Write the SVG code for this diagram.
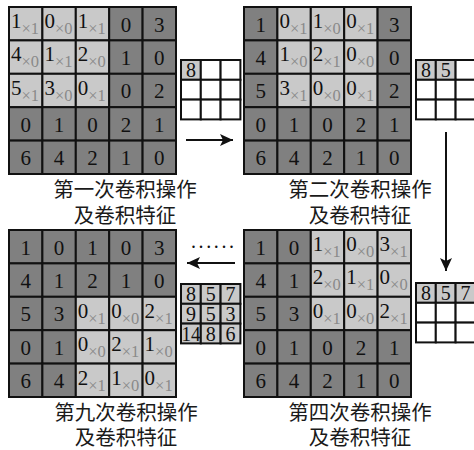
<svg xmlns="http://www.w3.org/2000/svg" width="474" height="450" viewBox="0 0 474 450">
<style>
.d{fill:#808080;stroke:#111;stroke-width:2}
.l{fill:#c9c9c9;stroke:#111;stroke-width:2}
.w{fill:#fff;stroke:#111;stroke-width:2}
.n{font-family:"Liberation Serif",serif;font-size:21px;fill:#111;text-anchor:middle}
.m{font-family:"Liberation Serif",serif;font-size:21px;fill:#111}
.s{font-size:16.5px;fill:#8a8a8a}
.f{font-family:"Liberation Serif",serif;font-size:20px;fill:#111;text-anchor:middle}
.lab{font-family:"Noto Sans CJK SC","Noto Sans",sans-serif;font-size:20.5px;fill:#1a1a1a;text-anchor:middle}
.ar{stroke:#111;stroke-width:2;fill:none}
</style>
<defs>
<marker id="ah" markerUnits="userSpaceOnUse" markerWidth="14" markerHeight="12" refX="13" refY="6" orient="auto">
<path d="M0,0 L13,6 L0,12 L3,6 z" fill="#111"/>
</marker>
</defs>

<!-- Grid 1 -->
<g id="grid1" transform="translate(9,7)">
<rect class="l" x="0" y="0" width="33.4" height="33.4"/><rect class="l" x="33.4" y="0" width="33.4" height="33.4"/><rect class="l" x="66.8" y="0" width="33.4" height="33.4"/><rect class="d" x="100.2" y="0" width="33.4" height="33.4"/><rect class="d" x="133.6" y="0" width="33.4" height="33.4"/>
<rect class="l" x="0" y="33.4" width="33.4" height="33.4"/><rect class="l" x="33.4" y="33.4" width="33.4" height="33.4"/><rect class="l" x="66.8" y="33.4" width="33.4" height="33.4"/><rect class="d" x="100.2" y="33.4" width="33.4" height="33.4"/><rect class="d" x="133.6" y="33.4" width="33.4" height="33.4"/>
<rect class="l" x="0" y="66.8" width="33.4" height="33.4"/><rect class="l" x="33.4" y="66.8" width="33.4" height="33.4"/><rect class="l" x="66.8" y="66.8" width="33.4" height="33.4"/><rect class="d" x="100.2" y="66.8" width="33.4" height="33.4"/><rect class="d" x="133.6" y="66.8" width="33.4" height="33.4"/>
<rect class="d" x="0" y="100.2" width="33.4" height="33.4"/><rect class="d" x="33.4" y="100.2" width="33.4" height="33.4"/><rect class="d" x="66.8" y="100.2" width="33.4" height="33.4"/><rect class="d" x="100.2" y="100.2" width="33.4" height="33.4"/><rect class="d" x="133.6" y="100.2" width="33.4" height="33.4"/>
<rect class="d" x="0" y="133.6" width="33.4" height="33.4"/><rect class="d" x="33.4" y="133.6" width="33.4" height="33.4"/><rect class="d" x="66.8" y="133.6" width="33.4" height="33.4"/><rect class="d" x="100.2" y="133.6" width="33.4" height="33.4"/><rect class="d" x="133.6" y="133.6" width="33.4" height="33.4"/>
<text class="m" x="2" y="21">1<tspan class="s" dy="6">×1</tspan></text><text class="m" x="35.4" y="21">0<tspan class="s" dy="6">×0</tspan></text><text class="m" x="68.8" y="21">1<tspan class="s" dy="6">×1</tspan></text><text class="n" x="116.9" y="24.5">0</text><text class="n" x="150.3" y="24.5">3</text>
<text class="m" x="2" y="54.4">4<tspan class="s" dy="6">×0</tspan></text><text class="m" x="35.4" y="54.4">1<tspan class="s" dy="6">×1</tspan></text><text class="m" x="68.8" y="54.4">2<tspan class="s" dy="6">×0</tspan></text><text class="n" x="116.9" y="57.9">1</text><text class="n" x="150.3" y="57.9">0</text>
<text class="m" x="2" y="87.8">5<tspan class="s" dy="6">×1</tspan></text><text class="m" x="35.4" y="87.8">3<tspan class="s" dy="6">×0</tspan></text><text class="m" x="68.8" y="87.8">0<tspan class="s" dy="6">×1</tspan></text><text class="n" x="116.9" y="91.3">0</text><text class="n" x="150.3" y="91.3">2</text>
<text class="n" x="16.7" y="124.7">0</text><text class="n" x="50.1" y="124.7">1</text><text class="n" x="83.5" y="124.7">0</text><text class="n" x="116.9" y="124.7">2</text><text class="n" x="150.3" y="124.7">1</text>
<text class="n" x="16.7" y="158.1">6</text><text class="n" x="50.1" y="158.1">4</text><text class="n" x="83.5" y="158.1">2</text><text class="n" x="116.9" y="158.1">1</text><text class="n" x="150.3" y="158.1">0</text>
</g>

<!-- Grid 2 -->
<g id="grid2" transform="translate(244,7)">
<rect class="d" x="0" y="0" width="33.4" height="33.4"/><rect class="l" x="33.4" y="0" width="33.4" height="33.4"/><rect class="l" x="66.8" y="0" width="33.4" height="33.4"/><rect class="l" x="100.2" y="0" width="33.4" height="33.4"/><rect class="d" x="133.6" y="0" width="33.4" height="33.4"/>
<rect class="d" x="0" y="33.4" width="33.4" height="33.4"/><rect class="l" x="33.4" y="33.4" width="33.4" height="33.4"/><rect class="l" x="66.8" y="33.4" width="33.4" height="33.4"/><rect class="l" x="100.2" y="33.4" width="33.4" height="33.4"/><rect class="d" x="133.6" y="33.4" width="33.4" height="33.4"/>
<rect class="d" x="0" y="66.8" width="33.4" height="33.4"/><rect class="l" x="33.4" y="66.8" width="33.4" height="33.4"/><rect class="l" x="66.8" y="66.8" width="33.4" height="33.4"/><rect class="l" x="100.2" y="66.8" width="33.4" height="33.4"/><rect class="d" x="133.6" y="66.8" width="33.4" height="33.4"/>
<rect class="d" x="0" y="100.2" width="33.4" height="33.4"/><rect class="d" x="33.4" y="100.2" width="33.4" height="33.4"/><rect class="d" x="66.8" y="100.2" width="33.4" height="33.4"/><rect class="d" x="100.2" y="100.2" width="33.4" height="33.4"/><rect class="d" x="133.6" y="100.2" width="33.4" height="33.4"/>
<rect class="d" x="0" y="133.6" width="33.4" height="33.4"/><rect class="d" x="33.4" y="133.6" width="33.4" height="33.4"/><rect class="d" x="66.8" y="133.6" width="33.4" height="33.4"/><rect class="d" x="100.2" y="133.6" width="33.4" height="33.4"/><rect class="d" x="133.6" y="133.6" width="33.4" height="33.4"/>
<text class="n" x="16.7" y="24.5">1</text><text class="m" x="35.4" y="21">0<tspan class="s" dy="6">×1</tspan></text><text class="m" x="68.8" y="21">1<tspan class="s" dy="6">×0</tspan></text><text class="m" x="102.2" y="21">0<tspan class="s" dy="6">×1</tspan></text><text class="n" x="150.3" y="24.5">3</text>
<text class="n" x="16.7" y="57.9">4</text><text class="m" x="35.4" y="54.4">1<tspan class="s" dy="6">×0</tspan></text><text class="m" x="68.8" y="54.4">2<tspan class="s" dy="6">×1</tspan></text><text class="m" x="102.2" y="54.4">0<tspan class="s" dy="6">×0</tspan></text><text class="n" x="150.3" y="57.9">0</text>
<text class="n" x="16.7" y="91.3">5</text><text class="m" x="35.4" y="87.8">3<tspan class="s" dy="6">×1</tspan></text><text class="m" x="68.8" y="87.8">0<tspan class="s" dy="6">×0</tspan></text><text class="m" x="102.2" y="87.8">0<tspan class="s" dy="6">×1</tspan></text><text class="n" x="150.3" y="91.3">2</text>
<text class="n" x="16.7" y="124.7">0</text><text class="n" x="50.1" y="124.7">1</text><text class="n" x="83.5" y="124.7">0</text><text class="n" x="116.9" y="124.7">2</text><text class="n" x="150.3" y="124.7">1</text>
<text class="n" x="16.7" y="158.1">6</text><text class="n" x="50.1" y="158.1">4</text><text class="n" x="83.5" y="158.1">2</text><text class="n" x="116.9" y="158.1">1</text><text class="n" x="150.3" y="158.1">0</text>
</g>

<!-- Grid 3 (ninth) -->
<g id="grid9" transform="translate(9,230)">
<rect class="d" x="0" y="0" width="33.4" height="33.4"/><rect class="d" x="33.4" y="0" width="33.4" height="33.4"/><rect class="d" x="66.8" y="0" width="33.4" height="33.4"/><rect class="d" x="100.2" y="0" width="33.4" height="33.4"/><rect class="d" x="133.6" y="0" width="33.4" height="33.4"/>
<rect class="d" x="0" y="33.4" width="33.4" height="33.4"/><rect class="d" x="33.4" y="33.4" width="33.4" height="33.4"/><rect class="d" x="66.8" y="33.4" width="33.4" height="33.4"/><rect class="d" x="100.2" y="33.4" width="33.4" height="33.4"/><rect class="d" x="133.6" y="33.4" width="33.4" height="33.4"/>
<rect class="d" x="0" y="66.8" width="33.4" height="33.4"/><rect class="d" x="33.4" y="66.8" width="33.4" height="33.4"/><rect class="l" x="66.8" y="66.8" width="33.4" height="33.4"/><rect class="l" x="100.2" y="66.8" width="33.4" height="33.4"/><rect class="l" x="133.6" y="66.8" width="33.4" height="33.4"/>
<rect class="d" x="0" y="100.2" width="33.4" height="33.4"/><rect class="d" x="33.4" y="100.2" width="33.4" height="33.4"/><rect class="l" x="66.8" y="100.2" width="33.4" height="33.4"/><rect class="l" x="100.2" y="100.2" width="33.4" height="33.4"/><rect class="l" x="133.6" y="100.2" width="33.4" height="33.4"/>
<rect class="d" x="0" y="133.6" width="33.4" height="33.4"/><rect class="d" x="33.4" y="133.6" width="33.4" height="33.4"/><rect class="l" x="66.8" y="133.6" width="33.4" height="33.4"/><rect class="l" x="100.2" y="133.6" width="33.4" height="33.4"/><rect class="l" x="133.6" y="133.6" width="33.4" height="33.4"/>
<text class="n" x="16.7" y="24.5">1</text><text class="n" x="50.1" y="24.5">0</text><text class="n" x="83.5" y="24.5">1</text><text class="n" x="116.9" y="24.5">0</text><text class="n" x="150.3" y="24.5">3</text>
<text class="n" x="16.7" y="57.9">4</text><text class="n" x="50.1" y="57.9">1</text><text class="n" x="83.5" y="57.9">2</text><text class="n" x="116.9" y="57.9">1</text><text class="n" x="150.3" y="57.9">0</text>
<text class="n" x="16.7" y="91.3">5</text><text class="n" x="50.1" y="91.3">3</text><text class="m" x="68.8" y="87.8">0<tspan class="s" dy="6">×1</tspan></text><text class="m" x="102.2" y="87.8">0<tspan class="s" dy="6">×0</tspan></text><text class="m" x="135.6" y="87.8">2<tspan class="s" dy="6">×1</tspan></text>
<text class="n" x="16.7" y="124.7">0</text><text class="n" x="50.1" y="124.7">1</text><text class="m" x="68.8" y="121.2">0<tspan class="s" dy="6">×0</tspan></text><text class="m" x="102.2" y="121.2">2<tspan class="s" dy="6">×1</tspan></text><text class="m" x="135.6" y="121.2">1<tspan class="s" dy="6">×0</tspan></text>
<text class="n" x="16.7" y="158.1">6</text><text class="n" x="50.1" y="158.1">4</text><text class="m" x="68.8" y="154.6">2<tspan class="s" dy="6">×1</tspan></text><text class="m" x="102.2" y="154.6">1<tspan class="s" dy="6">×0</tspan></text><text class="m" x="135.6" y="154.6">0<tspan class="s" dy="6">×1</tspan></text>
</g>

<!-- Grid 4 (fourth) -->
<g id="grid4" transform="translate(244,230)">
<rect class="d" x="0" y="0" width="33.4" height="33.4"/><rect class="d" x="33.4" y="0" width="33.4" height="33.4"/><rect class="l" x="66.8" y="0" width="33.4" height="33.4"/><rect class="l" x="100.2" y="0" width="33.4" height="33.4"/><rect class="l" x="133.6" y="0" width="33.4" height="33.4"/>
<rect class="d" x="0" y="33.4" width="33.4" height="33.4"/><rect class="d" x="33.4" y="33.4" width="33.4" height="33.4"/><rect class="l" x="66.8" y="33.4" width="33.4" height="33.4"/><rect class="l" x="100.2" y="33.4" width="33.4" height="33.4"/><rect class="l" x="133.6" y="33.4" width="33.4" height="33.4"/>
<rect class="d" x="0" y="66.8" width="33.4" height="33.4"/><rect class="d" x="33.4" y="66.8" width="33.4" height="33.4"/><rect class="l" x="66.8" y="66.8" width="33.4" height="33.4"/><rect class="l" x="100.2" y="66.8" width="33.4" height="33.4"/><rect class="l" x="133.6" y="66.8" width="33.4" height="33.4"/>
<rect class="d" x="0" y="100.2" width="33.4" height="33.4"/><rect class="d" x="33.4" y="100.2" width="33.4" height="33.4"/><rect class="d" x="66.8" y="100.2" width="33.4" height="33.4"/><rect class="d" x="100.2" y="100.2" width="33.4" height="33.4"/><rect class="d" x="133.6" y="100.2" width="33.4" height="33.4"/>
<rect class="d" x="0" y="133.6" width="33.4" height="33.4"/><rect class="d" x="33.4" y="133.6" width="33.4" height="33.4"/><rect class="d" x="66.8" y="133.6" width="33.4" height="33.4"/><rect class="d" x="100.2" y="133.6" width="33.4" height="33.4"/><rect class="d" x="133.6" y="133.6" width="33.4" height="33.4"/>
<text class="n" x="16.7" y="24.5">1</text><text class="n" x="50.1" y="24.5">0</text><text class="m" x="68.8" y="21">1<tspan class="s" dy="6">×1</tspan></text><text class="m" x="102.2" y="21">0<tspan class="s" dy="6">×0</tspan></text><text class="m" x="135.6" y="21">3<tspan class="s" dy="6">×1</tspan></text>
<text class="n" x="16.7" y="57.9">4</text><text class="n" x="50.1" y="57.9">1</text><text class="m" x="68.8" y="54.4">2<tspan class="s" dy="6">×0</tspan></text><text class="m" x="102.2" y="54.4">1<tspan class="s" dy="6">×1</tspan></text><text class="m" x="135.6" y="54.4">0<tspan class="s" dy="6">×0</tspan></text>
<text class="n" x="16.7" y="91.3">5</text><text class="n" x="50.1" y="91.3">3</text><text class="m" x="68.8" y="87.8">0<tspan class="s" dy="6">×1</tspan></text><text class="m" x="102.2" y="87.8">0<tspan class="s" dy="6">×0</tspan></text><text class="m" x="135.6" y="87.8">2<tspan class="s" dy="6">×1</tspan></text>
<text class="n" x="16.7" y="124.7">0</text><text class="n" x="50.1" y="124.7">1</text><text class="n" x="83.5" y="124.7">0</text><text class="n" x="116.9" y="124.7">2</text><text class="n" x="150.3" y="124.7">1</text>
<text class="n" x="16.7" y="158.1">6</text><text class="n" x="50.1" y="158.1">4</text><text class="n" x="83.5" y="158.1">2</text><text class="n" x="116.9" y="158.1">1</text><text class="n" x="150.3" y="158.1">0</text>
</g>

<!-- Feature maps -->
<g id="fm1" transform="translate(181,60)">
<rect class="l" x="0" y="0" width="19.8" height="19.8"/><rect class="w" x="19.8" y="0" width="19.8" height="19.8"/><rect class="w" x="39.6" y="0" width="19.8" height="19.8"/>
<rect class="w" x="0" y="19.8" width="19.8" height="19.8"/><rect class="w" x="19.8" y="19.8" width="19.8" height="19.8"/><rect class="w" x="39.6" y="19.8" width="19.8" height="19.8"/>
<rect class="w" x="0" y="39.6" width="19.8" height="19.8"/><rect class="w" x="19.8" y="39.6" width="19.8" height="19.8"/><rect class="w" x="39.6" y="39.6" width="19.8" height="19.8"/>
<text class="f" x="9.9" y="17">8</text>
</g>
<g id="fm2" transform="translate(416,60)">
<rect class="l" x="0" y="0" width="19.8" height="19.8"/><rect class="l" x="19.8" y="0" width="19.8" height="19.8"/><rect class="w" x="39.6" y="0" width="19.8" height="19.8"/>
<rect class="w" x="0" y="19.8" width="19.8" height="19.8"/><rect class="w" x="19.8" y="19.8" width="19.8" height="19.8"/><rect class="w" x="39.6" y="19.8" width="19.8" height="19.8"/>
<rect class="w" x="0" y="39.6" width="19.8" height="19.8"/><rect class="w" x="19.8" y="39.6" width="19.8" height="19.8"/><rect class="w" x="39.6" y="39.6" width="19.8" height="19.8"/>
<text class="f" x="9.9" y="17">8</text><text class="f" x="29.7" y="17">5</text>
</g>
<g id="fm9" transform="translate(181,284)">
<rect class="l" x="0" y="0" width="19.8" height="19.8"/><rect class="l" x="19.8" y="0" width="19.8" height="19.8"/><rect class="l" x="39.6" y="0" width="19.8" height="19.8"/>
<rect class="l" x="0" y="19.8" width="19.8" height="19.8"/><rect class="l" x="19.8" y="19.8" width="19.8" height="19.8"/><rect class="l" x="39.6" y="19.8" width="19.8" height="19.8"/>
<rect class="l" x="0" y="39.6" width="19.8" height="19.8"/><rect class="l" x="19.8" y="39.6" width="19.8" height="19.8"/><rect class="l" x="39.6" y="39.6" width="19.8" height="19.8"/>
<text class="f" x="9.9" y="17">8</text><text class="f" x="29.7" y="17">5</text><text class="f" x="49.5" y="17">7</text>
<text class="f" x="9.9" y="36.8">9</text><text class="f" x="29.7" y="36.8">5</text><text class="f" x="49.5" y="36.8">3</text>
<text class="f" x="9.9" y="56.6" textLength="19" lengthAdjust="spacingAndGlyphs">14</text><text class="f" x="29.7" y="56.6">8</text><text class="f" x="49.5" y="56.6">6</text>
</g>
<g id="fm4" transform="translate(416,283)">
<rect class="l" x="0" y="0" width="19.8" height="19.8"/><rect class="l" x="19.8" y="0" width="19.8" height="19.8"/><rect class="l" x="39.6" y="0" width="19.8" height="19.8"/>
<rect class="w" x="0" y="19.8" width="19.8" height="19.8"/><rect class="w" x="19.8" y="19.8" width="19.8" height="19.8"/><rect class="w" x="39.6" y="19.8" width="19.8" height="19.8"/>
<rect class="w" x="0" y="39.6" width="19.8" height="19.8"/><rect class="w" x="19.8" y="39.6" width="19.8" height="19.8"/><rect class="w" x="39.6" y="39.6" width="19.8" height="19.8"/>
<text class="f" x="9.9" y="17">8</text><text class="f" x="29.7" y="17">5</text><text class="f" x="49.5" y="17">7</text>
</g>

<!-- Labels -->
<g id="label1"><text class="lab" x="125" y="197">第一次卷积操作<tspan x="125" dy="26">及卷积特征</tspan></text></g>
<g id="label2"><text class="lab" x="360" y="197">第二次卷积操作<tspan x="360" dy="26">及卷积特征</tspan></text></g>
<g id="label9"><text class="lab" x="126" y="420">第九次卷积操作<tspan x="126" dy="25">及卷积特征</tspan></text></g>
<g id="label4"><text class="lab" x="360" y="420">第四次卷积操作<tspan x="360" dy="25">及卷积特征</tspan></text></g>

<!-- Connectors -->
<g id="connectors">
<line class="ar" x1="186" y1="140" x2="233" y2="140" marker-end="url(#ah)"/>
<line class="ar" x1="446" y1="132" x2="446" y2="271" marker-end="url(#ah)"/>
<line class="ar" x1="235" y1="263" x2="187" y2="263" marker-end="url(#ah)"/>
<text x="191" y="248" style="font-family:'Liberation Serif',serif;font-size:20px;fill:#111;letter-spacing:2.6px">......</text>
</g>
</svg>
